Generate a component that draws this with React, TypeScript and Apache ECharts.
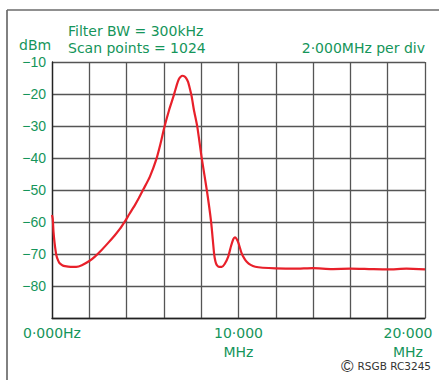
import React, { useEffect, useRef } from "react";
import * as echarts from "echarts";

const freqMHz = [
  0, 0.04, 0.08, 0.14, 0.23, 0.32, 0.41, 0.55, 0.7, 1.0, 1.3, 1.6, 2.0, 2.3, 2.65, 3.0,
  3.36, 3.65, 3.9, 4.15, 4.43, 4.65, 4.9, 5.25, 5.61, 5.82, 6.02, 6.28, 6.5, 6.6, 6.7, 6.8,
  6.9, 7.0, 7.1, 7.2, 7.3, 7.4, 7.49, 7.61, 7.79, 8.03, 8.3, 8.53, 8.69, 8.76, 8.83,
  8.95, 9.1, 9.25, 9.45, 9.6, 9.72, 9.81, 9.9, 10.0, 10.17, 10.3, 10.44, 10.65, 10.9,
  11.3, 12, 13, 14, 15, 16, 17, 18, 19, 20,
];
const levelDbm = [
  -57.8, -59.0, -63.0, -66.6, -70.3, -71.9, -72.9, -73.5, -73.8, -74.0, -74.0, -73.5,
  -72.2, -70.8, -68.8, -66.6, -64.2, -62.1, -59.9, -57.5, -54.9, -52.6, -49.8, -45.8,
  -40.1, -35.5, -30.5, -25.0, -21.0, -19.0, -17.0, -15.4, -14.6, -14.3, -14.5, -15.1, -16.3,
  -18.5, -20.8, -25.0, -30.2, -40.1, -50.0, -59.9, -69.8, -72.3, -73.4, -74.0, -74.0,
  -73.2, -70.8, -67.5, -65.4, -64.8, -65.3, -66.6, -69.8, -71.3, -72.4, -73.4, -74.0,
  -74.3, -74.5, -74.6, -74.4, -74.7, -74.6, -74.7, -74.8, -74.6, -74.8,
];
const xTickLabels: Record<number, string> = { 0: "0·000Hz", 10: "10·000\nMHz", 20: "20·000\nMHz" };
const titleLines = ["Filter BW = 300kHz", "Scan points = 1024"];
const unitLabel = "dBm";
const scaleLabel = "2·000MHz per div";
const creditLabel = "RSGB RC3245";

const GREEN = "#15955a";
const FONT = "DejaVu Sans";

export default function App() {
  const ref = useRef<HTMLDivElement>(null);
  useEffect(() => {
    if (!ref.current) return;
    const chart = echarts.init(ref.current, undefined, { renderer: "svg" });
    const data = freqMHz.map((f, i) => [f, levelDbm[i]]);
    chart.setOption({
      animation: false,
      backgroundColor: "#ffffff",
      grid: { left: 52, right: 14, top: 62, bottom: 62, containLabel: false, outerBoundsMode: "none" },
      xAxis: {
        type: "value",
        min: 0,
        max: 20,
        interval: 2,
        axisLine: { show: true, lineStyle: { color: "#222", width: 1.3 } },
        axisTick: { show: false },
        splitLine: { show: true, lineStyle: { color: "#555", width: 1.3 } },
        axisLabel: {
          showMinLabel: true,
          showMaxLabel: true,
          margin: 5,
          color: GREEN,
          fontFamily: FONT,
          fontSize: 14,
          lineHeight: 19,
          formatter: (v: number) => {
            if (v === 20) return "{r|20·000}\n{r|MHz}";
            return xTickLabels[v] ?? "";
          },
          rich: {
            r: { color: GREEN, fontFamily: FONT, fontSize: 14, lineHeight: 19, padding: [0, 34, 0, 0] },
          },
        },
      },
      yAxis: {
        type: "value",
        min: -90,
        max: -10,
        interval: 10,
        axisLine: { show: true, lineStyle: { color: "#222", width: 1.3 } },
        axisTick: { show: false },
        splitLine: { show: true, lineStyle: { color: "#555", width: 1.3 } },
        axisLabel: {
          margin: 6,
          color: GREEN,
          fontFamily: "Liberation Sans",
          fontSize: 14,
          formatter: (v: number) => (v === -90 ? "" : "\u2212" + Math.abs(v)),
        },
      },
      series: [
        {
          type: "line",
          data,
          symbol: "none",
          smooth: 0.2,
          lineStyle: { color: "#e8202a", width: 2.2 },
        },
      ],
      graphic: [
        { type: "line", shape: { x1: 7, y1: 10, x2: 439, y2: 10 }, style: { stroke: "#6b6b6b", lineWidth: 1.5 } },
        { type: "line", shape: { x1: 7, y1: 10, x2: 7, y2: 380 }, style: { stroke: "#6b6b6b", lineWidth: 1.7 } },
        {
          type: "text", x: 68, y: 31,
          style: { text: titleLines[0], fill: GREEN, font: `14px "${FONT}"`, textAlign: "left", textVerticalAlign: "middle" },
        },
        {
          type: "text", x: 68, y: 48,
          style: { text: titleLines[1], fill: GREEN, font: `14px "${FONT}"`, textAlign: "left", textVerticalAlign: "middle" },
        },
        {
          type: "text", x: 19, y: 45,
          style: { text: unitLabel, fill: GREEN, font: `14px "${FONT}"`, textAlign: "left", textVerticalAlign: "middle" },
        },
        {
          type: "text", x: 425, y: 47.5,
          style: { text: scaleLabel, fill: GREEN, font: `14px "${FONT}"`, textAlign: "right", textVerticalAlign: "middle" },
        },
        {
          type: "text", x: 341, y: 366,
          style: { text: "\u00a9", fill: "#333", font: `17px "Liberation Sans"`, textAlign: "left", textVerticalAlign: "middle" },
        },
        {
          type: "text", x: 431, y: 366,
          style: { text: creditLabel, fill: "#333", font: `10.5px "${FONT}"`, textAlign: "right", textVerticalAlign: "middle" },
        },
      ],
    });
    return () => chart.dispose();
  }, []);
  return (
    <div
      ref={ref}
      style={{ position: "fixed", left: 0, top: 0, width: 439, height: 380, background: "#fff" }}
    />
  );
}
